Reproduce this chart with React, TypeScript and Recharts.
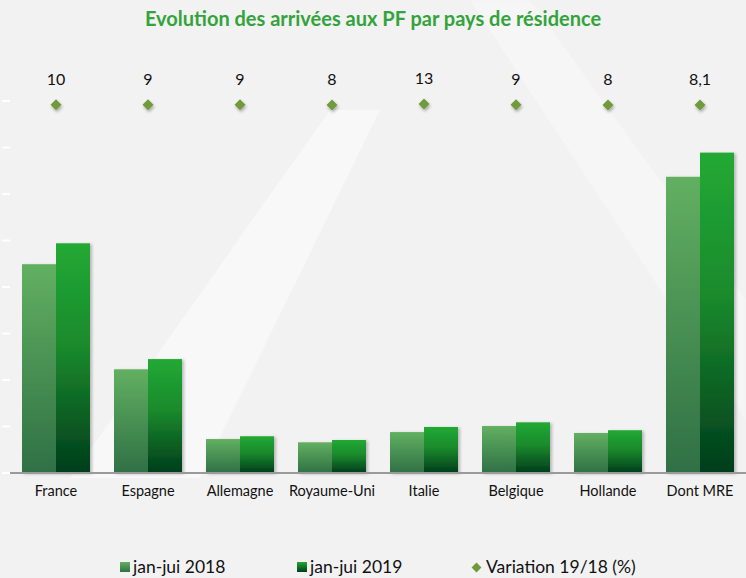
import { ComposedChart, Bar, Line, XAxis, YAxis, LabelList } from 'recharts';

const pays = ['France', 'Espagne', 'Allemagne', 'Royaume-Uni', 'Italie', 'Belgique', 'Hollande', 'Dont MRE'];
// arrivées (milliers)
const arrivees2018 = [449, 223, 73, 66, 88, 101, 86, 637];
const arrivees2019 = [494, 245, 79, 71, 99, 109, 92, 689];
// variation 19/18 en %
const variation = [10, 9, 9, 8, 13, 9, 8, 8.1];
const yTicks = [0, 100, 200, 300, 400, 500, 600, 700, 800];

const seriesNames = ['jan-jui 2018', 'jan-jui 2019', 'Variation 19/18 (%)'];

const data = pays.map((p, i) => ({
    name: p,
    a2018: arrivees2018[i],
    a2019: arrivees2019[i],
    variation: variation[i],
}));

const FONT = 'Lato, "Open Sans", sans-serif';

const Diamond = (props: any) => {
    const { cx, cy } = props;
    if (cx == null || cy == null) return null;
    const s = 5.5;
    return (
        <path
            d={`M${cx},${cy - s} L${cx + s},${cy} L${cx},${cy + s} L${cx - s},${cy} Z`}
            fill="#6f9a3b"
            filter="url(#dotShadow)"
        />
    );
};

const barShape = (fill: string) => (p: any) => (
    <rect x={p.x} y={p.y} width={p.width} height={p.height} fill={fill} filter="url(#barShadow)" />
);

const legendItem = { position: 'absolute' as const, top: 0, whiteSpace: 'nowrap' as const, display: 'flex', alignItems: 'center' };

export default function App() {
    return (
        <div
            style={{
                position: 'absolute',
                left: 0,
                top: 0,
                width: 746,
                height: 578,
                overflow: 'hidden',
                background: '#f2f2f2',
                fontFamily: FONT,
            }}
        >
            {/* watermark bands */}
            <div
                style={{
                    position: 'absolute',
                    inset: 0,
                    background: 'rgba(255,255,255,0.45)',
                    filter: 'blur(4px)',
                    clipPath: 'polygon(70px 478px, 330px 110px, 380px 110px, 200px 478px)',
                }}
            />
            <div
                style={{
                    position: 'absolute',
                    inset: 0,
                    background: 'rgba(255,255,255,0.35)',
                    filter: 'blur(4px)',
                    clipPath: 'polygon(470px 0px, 530px 0px, 746px 300px, 746px 420px)',
                }}
            />

            <div
                style={{
                    position: 'absolute',
                    top: 5,
                    left: 0,
                    width: 746,
                    textAlign: 'center',
                    fontSize: 20,
                    fontWeight: 'bold',
                    color: '#33a33b',
                    lineHeight: '26px',
                }}
            >
                Evolution des arrivées aux PF par pays de résidence
            </div>

            <div style={{ position: 'absolute', left: 0, top: 0 }}>
                <ComposedChart
                    width={746}
                    height={578}
                    data={data}
                    margin={{ top: 101, right: 0, left: 0, bottom: 75 }}
                    barGap={0}
                >
                    <defs>
                        <linearGradient id="g2018" x1="0" y1="0" x2="0" y2="1">
                            <stop offset="0%" stopColor="#62b061" />
                            <stop offset="100%" stopColor="#2f7045" />
                        </linearGradient>
                        <linearGradient id="g2019" x1="0" y1="0" x2="0" y2="1">
                            <stop offset="0%" stopColor="#22a934" />
                            <stop offset="45%" stopColor="#1a8a2c" />
                            <stop offset="100%" stopColor="#003d1c" />
                        </linearGradient>
                        <filter id="barShadow" x="-20%" y="-5%" width="150%" height="115%">
                            <feDropShadow dx="2" dy="1" stdDeviation="1.5" floodColor="#000" floodOpacity="0.25" />
                        </filter>
                        <filter id="dotShadow" x="-50%" y="-50%" width="200%" height="220%">
                            <feDropShadow dx="1" dy="2" stdDeviation="1.5" floodColor="#000" floodOpacity="0.3" />
                        </filter>
                    </defs>
                    <XAxis
                        dataKey="name"
                        axisLine={{ stroke: '#9a9a9a', strokeWidth: 2 }}
                        tickLine={false}
                        tickSize={0}
                        tickMargin={13}
                        height={30}
                        interval={0}
                        tick={{ fill: '#111', fontSize: 14.5, fontFamily: FONT }}
                    />
                    <YAxis
                        yAxisId="left"
                        width={10}
                        domain={[0, 800]}
                        ticks={yTicks}
                        axisLine={false}
                        tickLine={{ stroke: '#ffffff', strokeWidth: 2 }}
                        tickSize={8}
                        tick={() => <g />}
                    />
                    <YAxis yAxisId="var" orientation="right" hide domain={[-2000, 30]} width={0} />
                    <Bar
                        yAxisId="left"
                        dataKey="a2018"
                        name={seriesNames[0]}
                        barSize={34}
                        fill="url(#g2018)"
                        shape={barShape('url(#g2018)')}
                        isAnimationActive={false}
                    />
                    <Bar
                        yAxisId="left"
                        dataKey="a2019"
                        name={seriesNames[1]}
                        barSize={34}
                        fill="url(#g2019)"
                        shape={barShape('url(#g2019)')}
                        isAnimationActive={false}
                    />
                    <Line
                        yAxisId="var"
                        dataKey="variation"
                        name={seriesNames[2]}
                        stroke="none"
                        dot={<Diamond />}
                        activeDot={false}
                        isAnimationActive={false}
                    >
                        <LabelList
                            dataKey="variation"
                            position="top"
                            offset={20}
                            fill="#111"
                            fontSize={16}
                            fontFamily={FONT}
                            formatter={(v: any) => String(v).replace('.', ',')}
                        />
                    </Line>
                </ComposedChart>
            </div>

            {/* legend */}
            <div style={{ position: 'absolute', top: 557, left: 0, fontSize: 17.5, color: '#111', lineHeight: '20px' }}>
                <div style={{ ...legendItem, left: 120 }}>
                    <span style={{ width: 10, height: 10, background: 'linear-gradient(#62b061, #2f7045)', marginRight: 3 }} />
                    {seriesNames[0]}
                </div>
                <div style={{ ...legendItem, left: 297 }}>
                    <span style={{ width: 10, height: 10, background: 'linear-gradient(#22a934, #003d1c)', marginRight: 3 }} />
                    {seriesNames[1]}
                </div>
                <div style={{ ...legendItem, left: 472 }}>
                    <span
                        style={{
                            width: 7,
                            height: 7,
                            background: '#6f9a3b',
                            transform: 'rotate(45deg)',
                            marginRight: 6,
                            marginLeft: 1,
                        }}
                    />
                    {seriesNames[2]}
                </div>
            </div>
        </div>
    );
}
